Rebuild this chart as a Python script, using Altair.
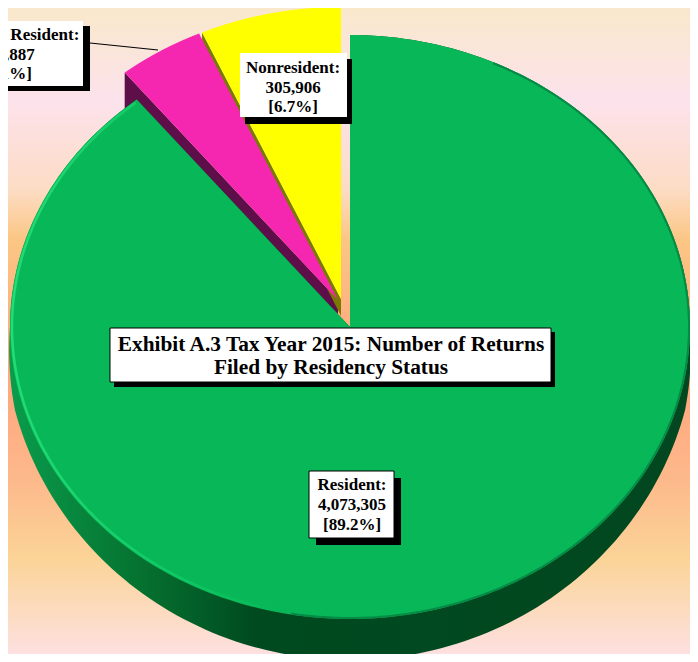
import math
import altair as alt

categories = ["Resident", "Nonresident", "Part-Year Resident"]
returns = [4073305, 305906, 186887]
shares = ["89.2%", "6.7%", "4.1%"]
title_lines = "Exhibit A.3 Tax Year 2015: Number of Returns\nFiled by Residency Status"

W, H = 682, 646
RX, RY = 340, 292
N = 240
SERIF = "Liberation Serif"

total = sum(returns)
turn = [360 * v / total for v in returns]


def pt(c, phi, rx=RX, ry=RY, drop=0.0, flare=0.0):
    a = math.radians(phi)
    sinv, cosv = math.sin(a), math.cos(a)
    low = max(0.0, -cosv)
    return [c[0] + (rx + flare * min(1.0, 4 * low)) * sinv, c[1] - ry * cosv + drop * low]


def arc(c, start, end, **kw):
    return [pt(c, start + (end - start) * i / N, **kw) for i in range(N + 1)]


def poly(points):
    ring = points + [points[0]]
    return {"type": "Feature", "properties": {}, "geometry": {"type": "Polygon", "coordinates": [ring]}}


def polyline(points):
    return {"type": "Feature", "properties": {}, "geometry": {"type": "LineString", "coordinates": points}}


def shape(feature, **mark):
    return alt.Chart(alt.Data(values=[feature])).mark_geoshape(**mark).project(
        type="identity", scale=1, translate=[-8, -8]
    )


def row():
    return alt.Chart(alt.Data(values=[{"k": 1}]))


def box(x0, y0, x1, y1, **mark):
    return row().mark_rect(**mark).encode(
        x=alt.value(x0 - 8), x2=alt.value(x1 - 8), y=alt.value(y0 - 8), y2=alt.value(y1 - 8)
    )


def label(text, cx, first_y, size, line_height):
    return alt.Chart(alt.Data(values=[{"t": text}])).mark_text(
        font=SERIF, fontWeight="bold", fontSize=size, color="#000000",
        lineBreak="\n", lineHeight=line_height, align="center", baseline="middle",
    ).encode(text="t:N", x=alt.value(cx - 8), y=alt.value(first_y - 8))


def callout(i):
    return f"{categories[i]}:\n{returns[i]:,}\n[{shares[i]}]"


bg_stops = [
    (8, "#f9e8cb"), (100, "#fce2ec"), (190, "#fddcc4"), (240, "#fbc684"), (340, "#ffab80"), (400, "#fea97f"),
    (480, "#fdb98b"), (560, "#fbd498"), (654, "#fde0e0"),
]
background = box(8, 8, 8 + W, 8 + H, color=alt.Gradient(
    gradient="linear", x1=0, y1=0, x2=0, y2=1,
    stops=[alt.GradientStop(offset=(y - 8) / H, color=c) for y, c in bg_stops],
))

c_green = (350, 327)
c_yellow = (341, 299)
c_pink = (338, 300)

a_res = turn[0]
a_non = 360 - turn[1]
a_part = a_non - turn[2]

# walls of the pulled-out slices
pr = pt(c_pink, a_part)
wall_pink = shape(poly([list(c_pink), pr, [pr[0], pr[1] + 38], [c_pink[0], c_pink[1] + 14]]),
                  fill="#5e0e48", strokeWidth=0)
yr = pt(c_yellow, a_non)
wall_yellow = shape(poly([list(c_yellow), yr, [yr[0], yr[1] + 10], [c_yellow[0], c_yellow[1] + 17]]),
                    fill="#7a7a00", strokeWidth=0)
top_yellow = shape(poly([list(c_yellow)] + arc(c_yellow, a_non, 360)), fill="#ffff00", strokeWidth=0)
top_pink = shape(poly([list(c_pink)] + arc(c_pink, a_part, a_non)), fill="#f527b0", strokeWidth=0)

rim = shape(poly([list(c_green)] + arc(c_green, 0, a_res, drop=41, flare=6)),
            strokeWidth=0, fill=alt.Gradient(
    gradient="linear", x1=0, y1=0, x2=1, y2=0,
    stops=[alt.GradientStop(offset=0, color="#0a9c4c"), alt.GradientStop(offset=0.2, color="#05702f"),
           alt.GradientStop(offset=0.36, color="#004a20"), alt.GradientStop(offset=1, color="#02471f")],
))
face = shape(poly([list(c_green)] + arc(c_green, 0, a_res)), fill="#08b858", strokeWidth=0)
shine = shape(polyline(arc(c_green, 192, a_res - 0.5, rx=RX - 2, ry=RY - 2)), filled=False,
              strokeWidth=2.5, stroke=alt.Gradient(
    gradient="linear", x1=0, y1=0, x2=1, y2=0,
    stops=[alt.GradientStop(offset=0, color="#22dc76"), alt.GradientStop(offset=0.6, color="#10c864"),
           alt.GradientStop(offset=1, color="#08b858")],
))
shade = shape(polyline(arc(c_green, 25, 190, rx=RX - 1, ry=RY - 1)), filled=False,
              strokeWidth=2, stroke="#068a45")

leader = row().mark_rule(color="#000000", strokeWidth=1.2).encode(
    x=alt.value(90 - 8), x2=alt.value(158 - 8), y=alt.value(43 - 8), y2=alt.value(50 - 8)
)

layers = [
    background, wall_pink, wall_yellow, top_yellow, top_pink, rim, face, shine, shade, leader,
    # part-year callout
    box(-70, 26, 90, 91, color="#000000"),
    box(-70, 21, 83, 86, color="#ffffff"),
    label(callout(2), 7, 35, 17, 19.5),
    # nonresident callout
    box(245, 59, 352, 124, color="#000000"),
    box(240, 53, 347, 117, color="#ffffff"),
    label(callout(1), 293, 68, 17, 19.5),
    # title
    box(114, 332, 555, 387, color="#000000"),
    box(110, 328, 551, 382, color="#ffffff", stroke="#000000", strokeWidth=1),
    label(title_lines, 331, 345, 21.35, 23),
    # resident callout
    box(316, 478, 401, 545, color="#000000"),
    box(309, 471, 394, 538, color="#ffffff", stroke="#000000", strokeWidth=1),
    label(callout(0), 352, 485, 17, 20),
]

chart = alt.layer(*layers).properties(
    width=W, height=H, padding=0,
    autosize=alt.AutoSizeParams(type="none", contains="padding"),
).configure_view(strokeWidth=0)

chart.save("out.html", embed_options={"renderer": "svg", "actions": False})
